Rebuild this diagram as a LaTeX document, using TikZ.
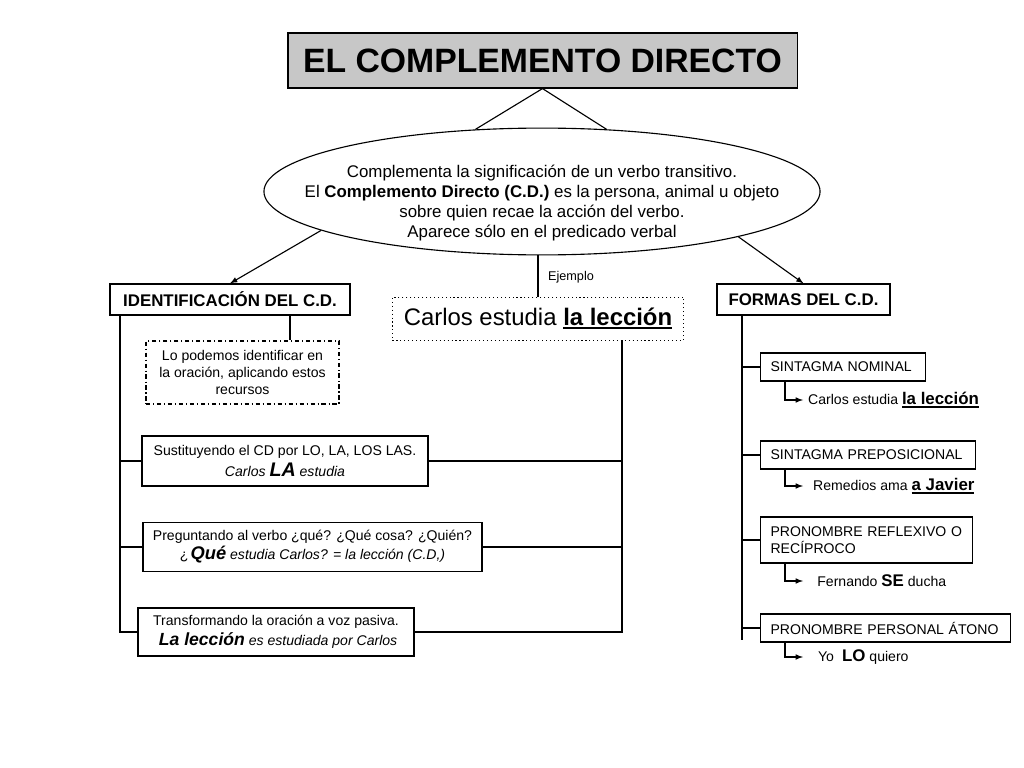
\documentclass[tikz,border=0pt]{standalone}
\usepackage{fontspec}
\setmainfont{Liberation Sans}
\usetikzlibrary{shapes.geometric}
\newsavebox\cajasub
\newcommand\subr[1]{\sbox\cajasub{#1}\rlap{\vrule width\wd\cajasub height -0.07em depth 0.17em}\usebox\cajasub}
\tikzset{
	linea/.style={line width=0.8pt},
	flecha/.style={line width=0.8pt, -latex},
	caja/.style={draw, line width=0.8pt, inner sep=0pt, align=center, font=\fontsize{10}{12}\selectfont},
	cajaforma/.style={draw, line width=0.8pt, anchor=west, inner xsep=0.25cm, inner ysep=0pt, align=left, minimum height=0.7cm, font=\fontsize{10}{12.5}\selectfont},
	ejemplo/.style={anchor=west, inner xsep=3.5pt, inner ysep=0pt, font=\fontsize{10}{12}\selectfont}
}

\begin{document}
\begin{tikzpicture}[x=0.025cm, y=-0.025cm]
		%%%%% START %%%%%
		\useasboundingbox (0,0) rectangle (1024,768);
		
		\node[caja, fill=black!22, minimum width=12.725cm, minimum height=1.375cm, font=\fontsize{24}{28}\selectfont\bfseries] (titulo) at (542.5,60.5) {EL COMPLEMENTO DIRECTO};
		
		\node[draw, ellipse, line width=0.8pt, minimum width=13.9cm, minimum height=3.17cm, inner sep=0pt] (elipse) at (542,191.5) {};
		\node[align=center, inner sep=0pt, font=\fontsize{12}{14.3}\selectfont] (definicion) at (542,203) {Complementa la significación de un verbo transitivo.\\El \textbf{Complemento Directo (C.D.)} es la persona, animal u objeto\\sobre quien recae la acción del verbo.\\Aparece sólo en el predicado verbal};
		
		\draw[linea] (titulo.south) -- (elipse.137);
		\draw[linea] (titulo.south) -- (elipse.44);
		
		\node[caja, minimum width=6cm, minimum height=0.775cm, font=\fontsize{12}{14}\selectfont\bfseries] (identificacion) at (230,299.5) {IDENTIFICACIÓN DEL C.D.};
		\node[caja, minimum width=4.325cm, minimum height=0.775cm, font=\fontsize{12}{14}\selectfont\bfseries] (formas) at (803.5,299.5) {FORMAS DEL C.D.};
		\node[caja, dotted, line width=0.5pt, minimum width=7.275cm, minimum height=1.075cm, font=\fontsize{17}{20}\selectfont] (oracion) at (538,318.5) {Carlos estudia {\bfseries\subr{la lección}}};
		
		\draw[flecha] (elipse.190) -- (identificacion.north);
		\draw[flecha] (elipse.-13) -- (formas.north);
		\draw[linea] (elipse.south -| oracion.north) -- (oracion.north);
		\node[font=\fontsize{9}{10}\selectfont] (etiqueta) at (571,277) {Ejemplo};
		
		\node[caja, dash dot, minimum width=4.825cm, minimum height=1.575cm] (recursos) at (242.5,372.5) {Lo podemos identificar en\\la oración, aplicando estos\\recursos};
		\node[caja, minimum width=7.15cm, minimum height=1.25cm, font=\fontsize{10}{15.5}\selectfont] (sustituir) at (285,461) {Sustituyendo el CD por LO, LA, LOS LAS.\\\itshape Carlos {\fontsize{14}{14}\selectfont\bfseries LA} estudia};
		\node[caja, minimum width=8.475cm, minimum height=1.225cm, font=\fontsize{10}{13.5}\selectfont] (preguntar) at (312.5,547) {Preguntando al verbo ¿qué? ¿Qué cosa? ¿Quién?\\¿\,{\fontsize{13}{13}\selectfont\bfseries\itshape Qué} \itshape estudia Carlos? = la lección (C.D,)};
		\node[caja, minimum width=6.9cm, minimum height=1.2cm, font=\fontsize{10}{14}\selectfont] (transformar) at (276,632) {Transformando la oración a voz pasiva.\\\hspace{3pt}{\fontsize{12.5}{13}\selectfont\bfseries\itshape La lección} \itshape es estudiada por Carlos};
		
		\coordinate (nota) at (290,315);
		\draw[linea] (nota) -- (recursos.north -| nota);
		
		\coordinate (izq) at (120,315);
		\draw[linea] (izq) |- (transformar.west);
		\draw[linea] (sustituir.west) -- (sustituir.west -| izq);
		\draw[linea] (preguntar.west) -- (preguntar.west -| izq);
		
		\coordinate (der) at (622,340);
		\draw[linea] (der) |- (transformar.east);
		\draw[linea] (sustituir.east) -- (sustituir.east -| der);
		\draw[linea] (preguntar.east) -- (preguntar.east -| der);
		
		\node[cajaforma, text width=3.625cm] (nominal) at (760,367) {SINTAGMA NOMINAL};
		\node[cajaforma, text width=4.875cm] (preposicional) at (760,455) {SINTAGMA PREPOSICIONAL};
		\node[cajaforma, text width=4.8cm, minimum height=1.15cm] (reflexivo) at (760,540) {PRONOMBRE REFLEXIVO O\\RECÍPROCO};
		\node[cajaforma, text width=5.75cm] (personal) at (760,628) {PRONOMBRE PERSONAL ÁTONO};
		
		\coordinate (fder) at (742,315);
		\coordinate (ffin) at (742,640);
		\draw[linea] (fder) -- (ffin);
		\draw[linea] (nominal.west) -- (nominal.west -| fder);
		\draw[linea] (preposicional.west) -- (preposicional.west -| fder);
		\draw[linea] (reflexivo.west) -- (reflexivo.west -| fder);
		\draw[linea] (personal.west) -- (personal.west -| fder);
		
		\node[ejemplo] (ej1) at (803,400) {Carlos estudia {\fontsize{12}{14}\selectfont\bfseries\subr{la lección}}};
		\node[ejemplo] (ej2) at (803,486) {\hspace{3.5pt}Remedios ama {\fontsize{12}{14}\selectfont\bfseries\subr{a Javier}}};
		\node[ejemplo] (ej3) at (803,581) {\hspace{6.5pt}Fernando {\fontsize{12}{14}\selectfont\bfseries SE} ducha};
		\node[ejemplo] (ej4) at (803,657) {\hspace{7pt}Yo\hspace{3pt} {\fontsize{12}{14}\selectfont\bfseries LO} quiero};
		
		\coordinate (bx) at (785,0);
		\draw[flecha] (nominal.south -| bx) |- (ej1.west);
		\draw[flecha] (preposicional.south -| bx) |- (ej2.west);
		\draw[flecha] (reflexivo.south -| bx) |- (ej3.west);
		\draw[flecha] (personal.south -| bx) |- (ej4.west);
		
		%%%%% END %%%%%
\end{tikzpicture}
\end{document}
